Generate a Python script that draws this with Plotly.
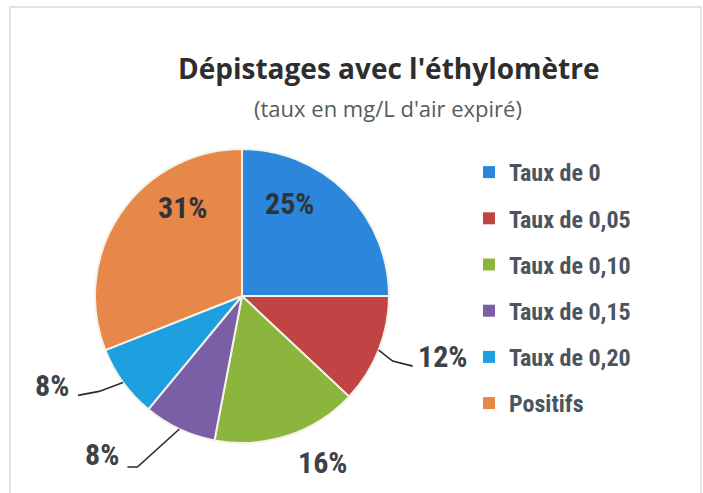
import math
import plotly.graph_objects as go

labels = ["Taux de 0", "Taux de 0,05", "Taux de 0,10", "Taux de 0,15", "Taux de 0,20", "Positifs"]
values = [25, 12, 16, 8, 8, 31]
colors = ["#2b86dc", "#c04444", "#8cb53e", "#7a5ea6", "#1d9fe0", "#e8874a"]
# label placement style: "in" = inside slice, "out" = outside (optionally with leader line)
label_mode = ["in", "out", "out", "out", "out", "in"]
# pixel offsets of each label from its anchor point (anchor: 0.65r inside, rim outside)
label_offset = [(-20, -25), (64, 6), (35, 27), (-77, 25), (-71, 3), (20, -35)]
# leader line elbow offsets (pixels, relative to rim anchor); None = no leader line
leader = [None, [(14, 11), (34, 16)], None, [(-42, 38), (-52, 38)], [(-24, 9), (-45, 13)], None]

W, H = 703, 493
CX, CY, R = 242, 296, 147  # pie centre / radius in pixels

def px2paper(x, y):
    return x / W, 1 - y / H

fig = go.Figure()
fig.add_trace(go.Pie(
    labels=labels,
    values=values,
    sort=False,
    direction="clockwise",
    rotation=0,
    marker=dict(colors=colors, line=dict(color="#f3f3ea", width=2)),
    textinfo="none",
    showlegend=False,
    domain=dict(x=[(CX - R) / W, (CX + R) / W], y=[1 - (CY + R) / H, 1 - (CY - R) / H]),
    hoverinfo="label+percent",
))

# legend entries (one per category, spaced like the original)
for lab, col in zip(labels, colors):
    fig.add_trace(go.Scatter(
        x=[None], y=[None], mode="markers", name=lab, legendgroup=lab,
        marker=dict(symbol="square", size=12, color=col),
        hoverinfo="skip",
    ))

total = sum(values)
annotations = []
shapes = []
cum = 0
for v, mode, off, ld in zip(values, label_mode, label_offset, leader):
    mid = (cum + v / 2) / total * 2 * math.pi
    cum += v
    rr = 0.65 * R if mode == "in" else R
    ax_ = CX + rr * math.sin(mid)
    ay_ = CY - rr * math.cos(mid)
    tx, ty = px2paper(ax_ + off[0], ay_ + off[1])
    annotations.append(dict(
        text=f"{round(v / total * 100)}%", x=tx, y=ty, xref="paper", yref="paper",
        xanchor="center", yanchor="middle", showarrow=False,
        font=dict(family="Liberation Sans Narrow, Roboto Condensed, Roboto", size=30,
                  color="#2f3438" if mode == "in" else "#3c4246", weight="bold"),
    ))
    if ld:
        pts = [(ax_, ay_)] + [(ax_ + dx, ay_ + dy) for dx, dy in ld]
        path = "M " + " L ".join(f"{px2paper(x, y)[0]:.5f},{px2paper(x, y)[1]:.5f}" for x, y in pts)
        shapes.append(dict(type="path", path=path, xref="paper", yref="paper", layer="above",
                           line=dict(color="#2a2a2a", width=1.6)))

annotations += [
    dict(text="<b>Dépistages avec l'éthylomètre</b>", x=388 / W, y=1 - 68 / H,
         xref="paper", yref="paper", xanchor="center", yanchor="middle",
         showarrow=False, font=dict(family="Open Sans", size=28, color="#2e2e2e")),
    dict(text="(taux en mg/L d'air expiré)", x=388 / W, y=1 - 108 / H,
         xref="paper", yref="paper", xanchor="center", yanchor="middle",
         showarrow=False, font=dict(family="Open Sans", size=22, color="#555d5a")),
]

shapes.append(dict(type="rect", xref="paper", yref="paper", x0=10 / W, x1=701 / W, y0=-0.02, y1=1 - 7 / H,
                   line=dict(color="#e2e2e2", width=2), fillcolor="rgba(0,0,0,0)"))

fig.update_layout(
    width=W, height=H,
    margin=dict(l=0, r=0, t=0, b=0),
    paper_bgcolor="white", plot_bgcolor="white",
    xaxis=dict(visible=False), yaxis=dict(visible=False),
    showlegend=True,
    legend=dict(
        x=469 / W, y=1 - 150 / H, xanchor="left", yanchor="top",
        font=dict(family="Liberation Sans Narrow, Roboto Condensed, Roboto", size=24,
                  color="#4a5560", weight="bold"),
        tracegroupgap=12, itemwidth=30, traceorder="grouped",
        bgcolor="rgba(0,0,0,0)",
    ),
    annotations=annotations,
    shapes=shapes,
)

fig.write_html("out.html", config={"displayModeBar": False},
               post_script="document.body.style.margin='0';")
